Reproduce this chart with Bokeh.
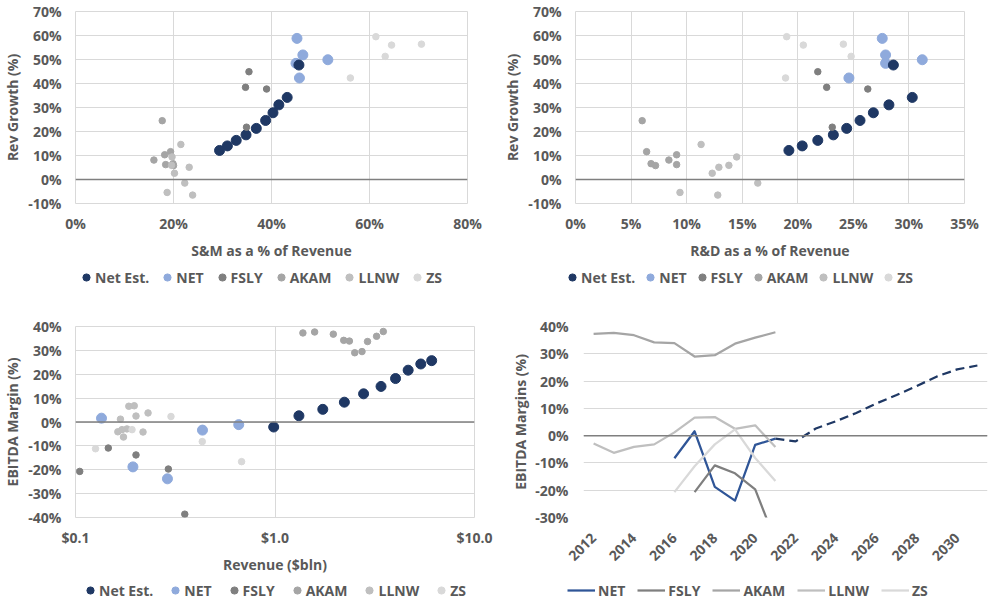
import math
from bokeh.plotting import figure
from bokeh.layouts import column, row
from bokeh.models import (Legend, LegendItem, Span, FixedTicker, PrintfTickFormatter,
                          CustomJSTickFormatter, Range1d)
from bokeh.embed import file_html
from bokeh.resources import INLINE

nan = float("nan")

# ---- data (percent values, revenue in $bln) ----
# Net Est. (forecast 2022-2031)
est_years = [2022, 2023, 2024, 2025, 2026, 2027, 2028, 2029, 2030, 2031]
est_sm = [45.6, 43.2, 41.5, 40.3, 38.8, 36.9, 34.8, 32.8, 31.0, 29.4]
est_rd = [28.6, 30.3, 28.2, 26.8, 25.6, 24.4, 23.2, 21.8, 20.4, 19.2]
est_growth = [47.7, 34.2, 31.1, 27.8, 24.6, 21.3, 18.6, 16.3, 14.0, 12.1]
est_rev = [0.985, 1.318, 1.736, 2.227, 2.78, 3.40, 4.02, 4.65, 5.38, 6.10]
est_margin = [-2.1, 2.6, 5.3, 8.3, 11.8, 14.9, 18.2, 21.7, 24.3, 25.7]

# NET
net_years = [2016, 2017, 2018, 2019, 2020, 2021]
net_rev = [0.085, 0.135, 0.194, 0.289, 0.433, 0.658]
net_margin = [-8.3, 1.6, -18.8, -23.8, -3.4, -1.1]
net_growth = [58.8, 42.3, 48.4, 49.9, 51.9]
net_sm = [45.2, 45.7, 45.0, 51.5, 46.4]
net_rd = [27.6, 24.6, 27.9, 31.2, 27.9]

# FSLY
fsly_years = [2017, 2018, 2019, 2020, 2021]
fsly_rev = [0.105, 0.146, 0.201, 0.292, 0.353]
fsly_margin = [-20.7, -10.9, -13.8, -19.7, -38.6]
fsly_growth = [38.4, 37.7, 44.9, 21.8]
fsly_sm = [34.7, 39.0, 35.4, 34.9]
fsly_rd = [22.6, 26.3, 21.8, 23.1]

# AKAM
akam_years = [2012, 2013, 2014, 2015, 2016, 2017, 2018, 2019, 2020, 2021]
akam_rev = [1.38, 1.58, 1.96, 2.21, 2.36, 2.51, 2.73, 2.91, 3.23, 3.49]
akam_margin = [37.3, 37.7, 36.8, 34.2, 33.9, 29.0, 29.5, 33.7, 35.9, 37.9]
akam_growth = [24.5, 11.6, 6.6, 5.8, 8.1, 10.3, 6.2]
akam_sm = [17.7, 19.4, 19.9, 20.0, 16.0, 18.2, 18.4]
akam_rd = [6.0, 6.4, 6.8, 7.2, 8.4, 9.1, 9.1]

# LLNW
llnw_years = [2012, 2013, 2014, 2015, 2016, 2017, 2018, 2019, 2020, 2021]
llnw_rev = [0.181, 0.174, 0.163, 0.171, 0.168, 0.185, 0.197, 0.201, 0.231, 0.218]
llnw_margin = [-2.9, -6.3, -4.1, -3.2, 1.2, 6.6, 6.8, 2.5, 3.8, -4.2]
llnw_growth = [14.6, 2.6, 5.1, 5.9, 9.4, -1.5, -5.4, -6.5]
llnw_sm = [21.5, 20.2, 23.2, 19.6, 19.7, 22.3, 18.7, 23.9]
llnw_rd = [11.3, 12.3, 12.9, 13.8, 14.5, 16.4, 9.4, 12.8]

# ZS
zs_years = [2016, 2017, 2018, 2019, 2020, 2021]
zs_rev = [0.080, 0.126, 0.192, 0.301, 0.432, 0.680]
zs_margin = [-20.7, -11.2, -3.2, 2.3, -8.2, -16.6]
zs_growth = [59.5, 56.0, 56.4, 51.3, 42.3]
zs_sm = [61.3, 64.5, 70.6, 63.2, 56.1]
zs_rd = [19.0, 20.5, 24.1, 24.8, 18.9]

year_ticks = [2012, 2014, 2016, 2018, 2020, 2022, 2024, 2026, 2028, 2030]

# ---- style ----
FONT = "Open Sans"
FS = "14px"
TEXT = "#595959"
GRID = "#d9d9d9"
ZERO = "#7f7f7f"
C_EST = "#1f3864"
C_NET = "#8faadc"
C_NET_LINE = "#2f5597"
C_FSLY = "#7f7f7f"
C_AKAM = "#a5a5a5"
C_LLNW = "#bfbfbf"
C_ZS = "#d9d9d9"

SCATTER_STYLE = [("Net Est.", C_EST, 10), ("NET", C_NET, 10), ("FSLY", C_FSLY, 6.5),
                 ("AKAM", C_AKAM, 6.5), ("LLNW", C_LLNW, 6.5), ("ZS", C_ZS, 6.5)]
LINE_STYLE = [("NET", C_NET_LINE), ("FSLY", C_FSLY), ("AKAM", C_AKAM),
              ("LLNW", C_LLNW), ("ZS", C_ZS)]


def style(p, x_standoff, x_lab_standoff, y_standoff, y_lab_standoff, outline=True):
    p.outline_line_color = GRID if outline else None
    p.xgrid.grid_line_color = GRID
    p.ygrid.grid_line_color = GRID
    for ax in (p.xaxis[0], p.yaxis[0]):
        ax.axis_line_color = None
        ax.major_tick_line_color = None
        ax.minor_tick_line_color = None
        ax.major_tick_out = 0
        ax.major_tick_in = 0
        ax.minor_tick_out = 0
        ax.major_label_text_font = FONT
        ax.major_label_text_font_style = "bold"
        ax.major_label_text_font_size = FS
        ax.major_label_text_color = TEXT
        ax.axis_label_text_font = FONT
        ax.axis_label_text_font_style = "bold"
        ax.axis_label_text_font_size = FS
        ax.axis_label_text_color = TEXT
    p.xaxis[0].major_label_standoff = x_standoff
    p.xaxis[0].axis_label_standoff = x_lab_standoff
    p.yaxis[0].major_label_standoff = y_standoff
    p.yaxis[0].axis_label_standoff = y_lab_standoff
    p.add_layout(Span(location=0, dimension="width", line_color=ZERO, line_width=1.5))


def legend_strip(height, specs):
    # full-width strip under a row of charts, carrying their legends
    lf = figure(width=1000, height=height, x_range=Range1d(0, 1), y_range=Range1d(0, 1),
                output_backend="svg", toolbar_location=None, min_border=0,
                x_axis_location=None, y_axis_location=None, outline_line_color=None)
    lf.xgrid.visible = False
    lf.ygrid.visible = False
    dots = [LegendItem(label=name, renderers=[lf.scatter([nan], [nan], size=size, color=col)])
            for name, col, size in SCATTER_STYLE]
    lines = [LegendItem(label=name, renderers=[lf.line([nan], [nan], color=col, line_width=2.25)])
             for name, col in LINE_STYLE]
    for kind, x, y, spacing in specs:
        if kind == "lines":
            items, gw, standoff = lines, 28, 3
        else:
            items, gw, standoff = dots, 18, 0
        lf.add_layout(Legend(items=items, orientation="horizontal", location=(x, y),
                             border_line_color=None, background_fill_alpha=0,
                             padding=0, margin=0, spacing=spacing, label_standoff=standoff,
                             glyph_width=gw, glyph_height=20,
                             label_text_font=FONT, label_text_font_style="bold",
                             label_text_font_size=FS, label_text_color=TEXT))
    return lf


def scatter_panel(p, xs, ys):
    # NET first so that the estimates sit on top of it
    p.scatter(xs["NET"], ys["NET"], size=10, color=C_NET)
    p.scatter(xs["Net Est."], ys["Net Est."], size=10, color=C_EST)
    p.scatter(xs["FSLY"], ys["FSLY"], size=6.5, color=C_FSLY)
    p.scatter(xs["AKAM"], ys["AKAM"], size=6.5, color=C_AKAM)
    p.scatter(xs["LLNW"], ys["LLNW"], size=6.5, color=C_LLNW)
    p.scatter(xs["ZS"], ys["ZS"], size=6.5, color=C_ZS)


pct = PrintfTickFormatter(format="%d%%")
growth = {"Net Est.": est_growth, "NET": net_growth, "FSLY": fsly_growth,
          "AKAM": akam_growth, "LLNW": llnw_growth, "ZS": zs_growth}

# ---- panel 1: S&M vs growth ----
p1 = figure(width=500, height=262, x_range=Range1d(0, 80), y_range=Range1d(-10, 70),
            output_backend="svg", toolbar_location=None,
            min_border_left=74, min_border_right=33, min_border_top=11, min_border_bottom=59,
            x_axis_label="S&M as a % of Revenue", y_axis_label="Rev Growth (%)")
p1.xaxis.ticker = FixedTicker(ticks=[0, 20, 40, 60, 80])
p1.yaxis.ticker = FixedTicker(ticks=list(range(-10, 71, 10)))
p1.xaxis.formatter = pct
p1.yaxis.formatter = pct
style(p1, 10, 5, 14, 3)
scatter_panel(p1, {"Net Est.": est_sm, "NET": net_sm, "FSLY": fsly_sm,
                   "AKAM": akam_sm, "LLNW": llnw_sm, "ZS": zs_sm}, growth)

# ---- panel 2: R&D vs growth ----
p2 = figure(width=500, height=262, x_range=Range1d(0, 35), y_range=Range1d(-10, 70),
            output_backend="svg", toolbar_location=None,
            min_border_left=71, min_border_right=36, min_border_top=11, min_border_bottom=59,
            x_axis_label="R&D as a % of Revenue", y_axis_label="Rev Growth (%)")
p2.xaxis.ticker = FixedTicker(ticks=list(range(0, 36, 5)))
p2.yaxis.ticker = FixedTicker(ticks=list(range(-10, 71, 10)))
p2.xaxis.formatter = pct
p2.yaxis.formatter = pct
style(p2, 10, 5, 14, 3)
scatter_panel(p2, {"Net Est.": est_rd, "NET": net_rd, "FSLY": fsly_rd,
                   "AKAM": akam_rd, "LLNW": llnw_rd, "ZS": zs_rd}, growth)

# ---- panel 3: revenue vs EBITDA margin ----
p3 = figure(width=500, height=277, x_axis_type="log", x_range=Range1d(0.1, 10),
            y_range=Range1d(-40, 40), output_backend="svg", toolbar_location=None,
            min_border_left=73, min_border_right=26, min_border_top=26, min_border_bottom=59,
            x_axis_label="Revenue ($bln)", y_axis_label="EBITDA Margin (%)")
p3.xaxis.ticker = FixedTicker(ticks=[0.1, 1, 10])
p3.xaxis.formatter = CustomJSTickFormatter(code="return '$' + tick.toFixed(1);")
p3.yaxis.ticker = FixedTicker(ticks=list(range(-40, 41, 10)))
p3.yaxis.formatter = pct
style(p3, 10, 5, 14, 3)
scatter_panel(p3, {"Net Est.": est_rev, "NET": net_rev, "FSLY": fsly_rev,
                   "AKAM": akam_rev, "LLNW": llnw_rev, "ZS": zs_rev},
              {"Net Est.": est_margin, "NET": net_margin, "FSLY": fsly_margin,
               "AKAM": akam_margin, "LLNW": llnw_margin, "ZS": zs_margin})

# ---- panel 4: EBITDA margins over time ----
p4 = figure(width=500, height=277, x_range=Range1d(2011.5, 2031.5), y_range=Range1d(-30, 40),
            output_backend="svg", toolbar_location=None,
            min_border_left=83, min_border_right=13, min_border_top=26, min_border_bottom=60,
            y_axis_label="EBITDA Margins (%)")
p4.xaxis.ticker = FixedTicker(ticks=year_ticks)
p4.yaxis.ticker = FixedTicker(ticks=list(range(-30, 41, 10)))
p4.yaxis.formatter = pct
style(p4, 18, 0, 15, 2, outline=False)
p4.xgrid.grid_line_color = None
p4.xaxis.major_label_orientation = math.pi / 4
lw = 2.25
p4.line(net_years, net_margin, color=C_NET_LINE, line_width=lw, line_join="round")
p4.line([net_years[-1]] + est_years, [net_margin[-1]] + est_margin, color=C_EST,
        line_width=lw, line_dash="9 5")
p4.line(fsly_years, fsly_margin, color=C_FSLY, line_width=lw, line_join="round")
p4.line(akam_years, akam_margin, color=C_AKAM, line_width=lw, line_join="round")
p4.line(llnw_years, llnw_margin, color=C_LLNW, line_width=lw, line_join="round")
p4.line(zs_years, zs_margin, color=C_ZS, line_width=lw, line_join="round")

top_legends = legend_strip(38, [("dots", 77, 13, 9), ("dots", 563, 13, 6)])
bottom_legends = legend_strip(26, [("dots", 81, 3, 13), ("lines", 567, 3, 12)])

layout = column(row(p1, p2), top_legends, row(p3, p4), bottom_legends)
open("out.html", "w").write(file_html(layout, INLINE))
